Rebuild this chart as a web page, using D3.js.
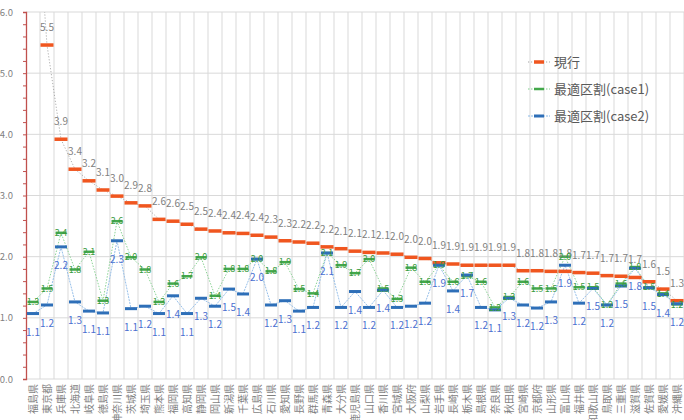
<!DOCTYPE html>
<html>
<head>
<meta charset="utf-8">
<script src="https://cdn.jsdelivr.net/npm/d3@7"></script>
<style>
  body { margin: 0; background: #fff; }
  text { font-family: "Noto Sans CJK JP", "Noto Sans", sans-serif; }
</style>
</head>
<body>
<div id="chart"></div>
<script>
// data
var prefs = ["福島県","東京都","兵庫県","北海道","岐阜県","徳島県","神奈川県","茨城県","埼玉県","熊本県",
  "福岡県","高知県","静岡県","岡山県","新潟県","千葉県","広島県","石川県","愛知県","長野県",
  "群馬県","青森県","大分県","鹿児島県","山口県","香川県","宮城県","大阪府","山梨県","岩手県",
  "長崎県","栃木県","島根県","奈良県","秋田県","宮崎県","京都府","山形県","富山県","福井県",
  "和歌山県","鳥取県","三重県","滋賀県","佐賀県","愛媛県","沖縄県"];

var genko = [8.7, 5.46, 3.92, 3.43, 3.24, 3.09, 2.99, 2.88, 2.83, 2.61,
  2.58, 2.53, 2.45, 2.42, 2.39, 2.38, 2.35, 2.32, 2.26, 2.24,
  2.22, 2.16, 2.13, 2.09, 2.07, 2.06, 2.04, 1.99, 1.97, 1.90,
  1.88, 1.86, 1.86, 1.86, 1.86, 1.77, 1.77, 1.76, 1.76, 1.74,
  1.73, 1.69, 1.68, 1.66, 1.59, 1.47, 1.28];

var case1 = [1.26, 1.48, 2.39, 1.79, 2.08, 1.28, 2.58, 1.99, 1.79, 1.26,
  1.56, 1.68, 1.99, 1.36, 1.80, 1.80, 1.96, 1.76, 1.91, 1.47,
  1.40, 2.06, 1.86, 1.73, 1.96, 1.48, 1.31, 1.82, 1.59, 1.86,
  1.59, 1.68, 1.59, 1.17, 1.34, 1.59, 1.48, 1.48, 2.00, 1.50,
  1.50, 1.21, 1.56, 1.83, 1.50, 1.40, 1.22];

var case2 = [1.07, 1.21, 2.16, 1.26, 1.11, 1.08, 2.26, 1.15, 1.19, 1.07,
  1.36, 1.07, 1.32, 1.19, 1.47, 1.39, 1.96, 1.21, 1.28, 1.11,
  1.17, 2.06, 1.17, 1.43, 1.17, 1.45, 1.17, 1.19, 1.24, 1.86,
  1.44, 1.70, 1.17, 1.13, 1.32, 1.21, 1.16, 1.26, 1.86, 1.24,
  1.48, 1.21, 1.52, 1.81, 1.49, 1.38, 1.23];

var seriesNames = ["現行", "最適区割(case1)", "最適区割(case2)"];
var yTicks = [0, 1, 2, 3, 4, 5, 6];

// dimensions
var margin = {top: 12, right: 0, bottom: 41, left: 26},
  width = 684 - margin.left - margin.right,
  height = 420 - margin.top - margin.bottom;

var svg = d3.select("#chart")
  .append("svg")
    .attr("width", width + margin.left + margin.right)
    .attr("height", height + margin.top + margin.bottom)
  .append("g")
    .attr("transform", "translate(" + margin.left + "," + margin.top + ")");

var x = d3.scaleBand().domain(prefs).range([0, width]);
var y = d3.scaleLinear().domain([0, 6]).range([height, 0]);
var cx = function(p) { return x(p) + x.bandwidth() / 2; };
var fmt = d3.format(".1f");

// gridlines
svg.selectAll(".hgrid")
  .data(yTicks.slice(1)).enter()
  .append("line")
    .attr("x1", 0).attr("x2", width)
    .attr("y1", function(d) { return y(d); })
    .attr("y2", function(d) { return y(d); })
    .style("stroke", "#d9d9d9").style("stroke-width", 1);

svg.selectAll(".vgrid")
  .data(prefs).enter()
  .append("line")
    .attr("x1", function(d) { return x(d) + x.bandwidth(); })
    .attr("x2", function(d) { return x(d) + x.bandwidth(); })
    .attr("y1", 0).attr("y2", height)
    .style("stroke", "#d9d9d9").style("stroke-width", 1);

// bottom axis line
svg.append("line")
  .attr("x1", 0).attr("x2", width)
  .attr("y1", height).attr("y2", height)
  .style("stroke", "#d9d9d9");

// y axis with minor ticks
var yAxis = svg.append("g")
  .call(d3.axisLeft(y)
    .tickValues(d3.range(0, 30.5).map(function(i) { return i / 5; }))
    .tickSize(3)
    .tickPadding(10)
    .tickFormat(function(d) { return Math.abs(d - Math.round(d)) < 1e-6 ? fmt(d) : ""; }));
yAxis.select(".domain").style("stroke", "#c0504d").style("stroke-width", 1.3);
yAxis.selectAll(".tick line").style("stroke", "#c0504d");
yAxis.selectAll(".tick text")
  .style("font-size", "9.5px").style("fill", "#7f7f7f")
  .style("font-family", "'Noto Sans CJK JP', sans-serif");

// x labels, rotated
svg.selectAll(".xlab")
  .data(prefs).enter()
  .append("text")
    .attr("transform", function(d) { return "translate(" + cx(d) + "," + (height + 5) + ") rotate(-90)"; })
    .attr("dy", "0.35em")
    .style("text-anchor", "end")
    .style("font-size", "10px")
    .style("fill", "#7f7f7f")
    .text(function(d) { return d; });

// clip
svg.append("clipPath").attr("id", "plotclip")
  .append("rect").attr("x", 0).attr("y", 0).attr("width", width).attr("height", height);
var plot = svg.append("g").attr("clip-path", "url(#plotclip)");

var series = [
  {name: seriesNames[0], values: genko, line: "#a5a5a5", dash: "1.2,1.8", mark: "#f0561f", mw: 13, mh: 3.5},
  {name: seriesNames[1], values: case1, line: "#7fcf8a", dash: "1.5,1.5", mark: "#43a84b", mw: 11, mh: 2.5},
  {name: seriesNames[2], values: case2, line: "#8ab8e6", dash: "2,1", mark: "#2e6fb8", mw: 12, mh: 3}
];

var line = d3.line()
  .x(function(d, i) { return cx(prefs[i]); })
  .y(function(d) { return y(d); });

series.forEach(function(s) {
  plot.append("path")
    .attr("d", line(s.values))
    .style("fill", "none")
    .style("stroke", s.line)
    .style("stroke-width", 0.9)
    .style("stroke-dasharray", s.dash);
});

series.forEach(function(s) {
  plot.selectAll(null)
    .data(s.values).enter()
    .append("rect")
      .attr("x", function(d, i) { return cx(prefs[i]) - s.mw / 2; })
      .attr("y", function(d) { return y(d) - s.mh / 2; })
      .attr("width", s.mw)
      .attr("height", s.mh)
      .style("fill", s.mark);
});

// data labels
plot.selectAll(null)
  .data(genko).enter()
  .append("text")
    .attr("x", function(d, i) { return cx(prefs[i]); })
    .attr("y", function(d) { return y(d) - 14; })
    .style("text-anchor", "middle")
    .style("font-size", "10px")
    .style("fill", "#808080")
    .text(function(d) { return fmt(d); });

plot.selectAll(null)
  .data(case1).enter()
  .append("text")
    .attr("x", function(d, i) { return cx(prefs[i]); })
    .attr("y", function(d) { return y(d); })
    .attr("dy", "0.35em")
    .style("text-anchor", "middle")
    .style("font-size", "9px")
    .style("fill", "#3a9a40")
    .text(function(d) { return fmt(d); });

plot.selectAll(null)
  .data(case2).enter()
  .append("text")
    .attr("x", function(d, i) { return cx(prefs[i]); })
    .attr("y", function(d) { return y(d) + 22; })
    .style("text-anchor", "middle")
    .style("font-size", "10px")
    .style("fill", "#4a6fd0")
    .text(function(d) { return fmt(d); });

// legend
var legend = svg.selectAll(".legend")
  .data(series).enter()
  .append("g")
    .attr("transform", function(d, i) { return "translate(" + (528 - margin.left) + "," + (62 + i * 27 - margin.top) + ")"; });

legend.append("line")
  .attr("x1", 0).attr("x2", 22)
  .style("stroke", function(d) { return d.line; })
  .style("stroke-dasharray", function(d) { return d.dash; });
legend.append("rect")
  .attr("x", 6).attr("width", 10)
  .attr("y", function(d) { return -d.mh / 2; })
  .attr("height", function(d) { return d.mh; })
  .style("fill", function(d) { return d.mark; });
legend.append("text")
  .attr("x", 26)
  .attr("dy", "0.35em")
  .style("font-size", "13px")
  .style("fill", "#595959")
  .text(function(d) { return d.name; });
</script>
</body>
</html>
